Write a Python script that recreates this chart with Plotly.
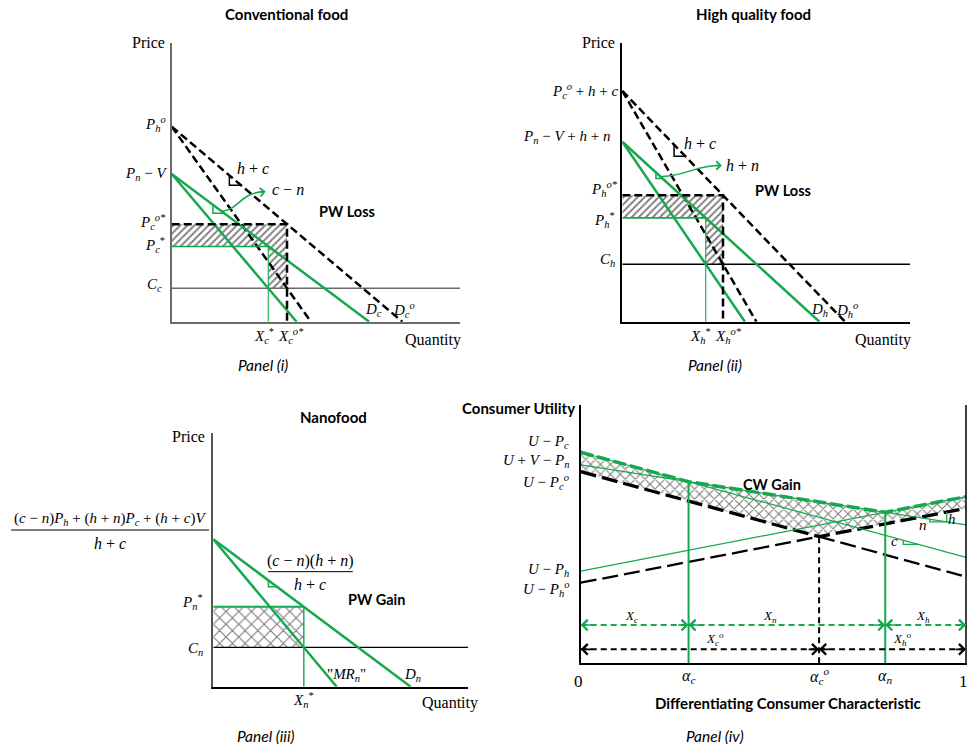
import plotly.graph_objects as go

# ---------------------------------------------------------------- data ----
# Panel (i) Conventional food  (price and quantity in model units, 0-10)
conv_price_int = [7.0, 5.3]      # [P_h^o  (old demand),  P_n - V (new demand)]
conv_demand_q  = [8.0, 6.85]     # quantity intercepts [D_c^o, D_c]
conv_mr_q      = [4.83, 4.33]    # quantity intercepts of old / new "MR"
conv_eq_price  = [3.5, 2.7]      # [P_c^o*, P_c^*]
conv_eq_qty    = [4.0, 3.35]     # [X_c^o*, X_c^*]
conv_cost      = 1.2             # C_c

# Panel (ii) High quality food
hq_price_int = [8.27, 6.45]      # [P_c^o + h + c,  P_n - V + h + n]
hq_demand_q  = [7.74, 6.85]      # [D_h^o, D_h]
hq_mr_q      = [4.66, 4.26]
hq_eq_price  = [4.53, 3.72]      # [P_h^o*, P_h^*]
hq_eq_qty    = [3.5, 2.9]        # [X_h^o*, X_h^*]
hq_cost      = 2.06              # C_h

# Panel (iii) Nanofood
nano_price_int = 5.82
nano_demand_q  = 7.74
nano_mr_q      = 4.84
nano_eq_price  = 3.16            # P_n^*
nano_eq_qty    = 3.55            # X_n^*
nano_cost      = 1.55            # C_n

# Panel (iv) consumer utility at alpha = 0 and alpha = 1
alpha_ends    = [0.0, 1.0]
util_conv_old = [7.42, 3.35]     # U - P_c^o
util_hq_old   = [3.12, 6.0]      # U - P_h^o
util_conv_new = [8.17, 4.1]      # U - P_c
util_nano     = [7.68, 5.36]     # U + V - P_n
util_hq_new   = [3.57, 6.45]     # U - P_h

# -------------------------------------------------------------- styles ----
W, H = 968, 745
GREEN = '#16a84e'
SERIF = 'Liberation Serif'
SANS = 'Lato'
DASH = '8px,4px'
XA = {1: 'x', 2: 'x2', 3: 'x3', 4: 'x4'}
YA = {1: 'y', 2: 'y2', 3: 'y3', 4: 'y4'}

fig = go.Figure()


def add_line(xs, ys, p, color='black', width=2.0, dash='solid'):
    fig.add_trace(go.Scatter(x=list(xs), y=list(ys), mode='lines',
                             line=dict(color=color, width=width, dash=dash),
                             xaxis=XA[p], yaxis=YA[p], hoverinfo='skip',
                             showlegend=False))


def add_area(xs, ys, p, shape, size, solidity):
    fig.add_trace(go.Scatter(x=list(xs), y=list(ys), mode='lines', fill='toself',
                             fillcolor='white',
                             line=dict(width=0, color='rgba(0,0,0,0)'),
                             fillpattern=dict(shape=shape, size=size, solidity=solidity,
                                              fgcolor='#000000', bgcolor='white'),
                             xaxis=XA[p], yaxis=YA[p], hoverinfo='skip',
                             showlegend=False))


def add_text(x, y, text, p=None, size=15, family=SERIF, xanchor='center',
             yanchor='middle', xshift=0, yshift=0):
    if p is None:
        xr, yr = 'paper', 'paper'
        x, y = x / W, (H - y) / H
    else:
        xr, yr = XA[p], YA[p]
    fig.add_annotation(x=x, y=y, xref=xr, yref=yr, text=text, showarrow=False,
                       font=dict(family=family, size=size, color='black'),
                       xanchor=xanchor, yanchor=yanchor, xshift=xshift, yshift=yshift)


def add_head(x, y, p, color, dx=-12, dy=0, size=1.3, width=1.6):
    fig.add_annotation(x=x, y=y, xref=XA[p], yref=YA[p], ax=dx, ay=dy, text='',
                       showarrow=True, arrowhead=4, arrowsize=size, arrowwidth=width,
                       arrowcolor=color, standoff=0)


def on_demand(pint, qint, q):
    return pint * (1 - q / qint)


def i(t):
    return '<i>' + t + '</i>'


MINUS = ' \u2212 '
TITLE = 15
PANEL = 15.5


def demand_panel(p, P_int, Q_int, MR_q, P_eq, X_eq, C, cost_color, tris):
    Po, Pn = P_eq
    Xo, Xn = X_eq
    add_area([0, Xo, Xo, Xn, Xn, 0], [Po, Po, C, C, Pn, Pn], p, '/', 5, 0.38)
    add_line([0, 10], [C, C], p, cost_color, 1.4)
    add_line([0, Q_int[0]], [P_int[0], 0], p, 'black', 2.5, DASH)
    add_line([0, MR_q[0]], [P_int[0], 0], p, 'black', 2.5, DASH)
    add_line([0, Q_int[1]], [P_int[1], 0], p, GREEN, 2.5)
    add_line([0, MR_q[1]], [P_int[1], 0], p, GREEN, 2.5)
    add_line([0, Xo, Xo], [Po, Po, 0], p, 'black', 2.5, DASH)
    add_line([0, Xn], [Pn, Pn], p, GREEN, 1.6)
    add_line([Xn, Xn], [Pn, 0], p, GREEN, 1.1)
    for k, q0, dp, col in tris:
        p0 = on_demand(P_int[k], Q_int[k], q0)
        dq = dp * Q_int[k] / P_int[k]
        add_line([q0, q0, q0 + dq], [p0, p0 - dp, p0 - dp], p, col, 1.5)


# ------------------------------------------------------------ panel (i) ----
demand_panel(1, conv_price_int, conv_demand_q, conv_mr_q, conv_eq_price,
             conv_eq_qty, conv_cost, '#6a6a6a',
             [(0, 2.0, 0.35, 'black'), (1, 1.43, 0.3, GREEN)])
fig.add_shape(type='path', xref='x', yref='y',
              path='M 1.75,3.97 C 2.35,4.02 2.35,4.62 3.22,4.67',
              line=dict(color=GREEN, width=1.5))
add_head(3.26, 4.67, 1, GREEN, dx=-8, dy=1, size=1.1, width=1.5)

add_text(0, conv_price_int[0], i('P') + '<sub>' + i('h') + '</sub><sup>' + i('o') + '</sup>', 1,
         xanchor='right', xshift=-4, yshift=3)
add_text(0, conv_price_int[1], i('P') + '<sub>' + i('n') + '</sub>' + MINUS + i('V'), 1,
         xanchor='right', xshift=-3)
add_text(0, conv_eq_price[0], i('P') + '<sub>' + i('c') + '</sub><sup>' + i('o*') + '</sup>', 1,
         xanchor='right', xshift=-4, yshift=2)
add_text(0, conv_eq_price[1], i('P') + '<sub>' + i('c') + '</sub><sup>*</sup>', 1,
         xanchor='right', xshift=-5, yshift=1)
add_text(0, conv_cost, i('C') + '<sub>' + i('c') + '</sub>', 1,
         xanchor='right', xshift=-8, yshift=3)
add_text(0, 10, 'Price', 1, size=16, xanchor='right', xshift=-5)
add_text(9.06, 0, 'Quantity', 1, size=16, yshift=-18)
add_text(conv_eq_qty[1], 0, i('X') + '<sub>' + i('c') + '</sub><sup>*</sup>', 1, yshift=-14, xshift=-4)
add_text(conv_eq_qty[0], 0, i('X') + '<sub>' + i('c') + '</sub><sup>' + i('o*') + '</sup>', 1,
         yshift=-14, xshift=4)
add_text(conv_demand_q[1], 0, i('D') + '<sub>' + i('c') + '</sub>', 1, yshift=12, xshift=4)
add_text(conv_demand_q[0], 0, i('D') + '<sub>' + i('c') + '</sub><sup>' + i('o') + '</sup>', 1,
         yshift=12, xshift=2)
add_text(2.82, 5.48, i('h') + ' + ' + i('c'), 1, size=16)
add_text(3.41, 4.76, i('c') + MINUS + i('n'), 1, size=16, xanchor='left')
add_text(6.07, 3.97, '<b>PW Loss</b>', 1, size=14.5, family=SANS)
add_text(286.7, 14, '<b>Conventional food</b>', None, size=TITLE, family=SANS)
add_text(263, 365, '<i>Panel (i)</i>', None, size=PANEL, family=SANS)

# ----------------------------------------------------------- panel (ii) ----
demand_panel(2, hq_price_int, hq_demand_q, hq_mr_q, hq_eq_price,
             hq_eq_qty, hq_cost, 'black',
             [(0, 1.8, 0.42, 'black'), (1, 1.17, 0.22, GREEN)])
fig.add_shape(type='path', xref='x2', yref='y2',
              path='M 1.38,5.2 C 2.3,5.25 2.5,5.6 3.42,5.6',
              line=dict(color=GREEN, width=1.5))
add_head(3.46, 5.6, 2, GREEN, dx=-8, dy=0, size=1.1, width=1.5)

add_text(0, hq_price_int[0], i('P') + '<sub>' + i('c') + '</sub><sup>' + i('o') + '</sup> + '
         + i('h') + ' + ' + i('c'), 2, xanchor='right', xshift=-1)
add_text(0, hq_price_int[1], i('P') + '<sub>' + i('n') + '</sub>' + MINUS + i('V') + ' + '
         + i('h') + ' + ' + i('n'), 2, xanchor='right', xshift=-9, yshift=5)
add_text(0, hq_eq_price[0], i('P') + '<sub>' + i('h') + '</sub><sup>' + i('o*') + '</sup>', 2,
         xanchor='right', xshift=-2, yshift=6)
add_text(0, hq_eq_price[1], i('P') + '<sub>' + i('h') + '</sub><sup>*</sup>', 2,
         xanchor='right', xshift=-5, yshift=-2)
add_text(0, hq_cost, i('C') + '<sub>' + i('h') + '</sub>', 2,
         xanchor='right', xshift=-5, yshift=4)
add_text(0, 10, 'Price', 2, size=16, xanchor='right', xshift=-5)
add_text(9.07, 0, 'Quantity', 2, size=16, yshift=-18)
add_text(hq_eq_qty[1], 0, i('X') + '<sub>' + i('h') + '</sub><sup>*</sup>', 2, yshift=-14, xshift=-5)
add_text(hq_eq_qty[0], 0, i('X') + '<sub>' + i('h') + '</sub><sup>' + i('o*') + '</sup>', 2,
         yshift=-14, xshift=5)
add_text(hq_demand_q[1], 0, i('D') + '<sub>' + i('h') + '</sub>', 2, yshift=12)
add_text(hq_demand_q[0], 0, i('D') + '<sub>' + i('h') + '</sub><sup>' + i('o') + '</sup>', 2,
         yshift=12, xshift=2)
add_text(2.07, 6.4, i('h') + ' + ' + i('c'), 2, size=16, xanchor='left')
add_text(3.53, 5.59, i('h') + ' + ' + i('n'), 2, size=16, xanchor='left')
add_text(5.6, 4.72, '<b>PW Loss</b>', 2, size=14.5, family=SANS)
add_text(753, 14, '<b>High quality food</b>', None, size=TITLE, family=SANS)
add_text(715, 365, '<i>Panel (ii)</i>', None, size=PANEL, family=SANS)

# ---------------------------------------------------------- panel (iii) ----
add_area([0, nano_eq_qty, nano_eq_qty, 0],
         [nano_eq_price, nano_eq_price, nano_cost, nano_cost], 3, 'x', 9, 0.24)
add_line([0, 10], [nano_cost, nano_cost], 3, 'black', 1.4)
add_line([0, nano_demand_q], [nano_price_int, 0], 3, GREEN, 2.5)
add_line([0, nano_mr_q], [nano_price_int, 0], 3, GREEN, 2.5)
add_line([0, nano_eq_qty], [nano_eq_price, nano_eq_price], 3, GREEN, 2)
add_line([nano_eq_qty, nano_eq_qty], [nano_eq_price, 0], 3, GREEN, 1.4)
q0 = 2.16
p0 = on_demand(nano_price_int, nano_demand_q, q0)
dq = 0.25 * nano_demand_q / nano_price_int
add_line([q0, q0, q0 + dq], [p0, p0 - 0.25, p0 - 0.25], 3, GREEN, 1.5)

add_text(110, 519.3, '(' + i('c') + MINUS + i('n') + ')' + i('P') + '<sub>' + i('h') + '</sub> + ('
         + i('h') + ' + ' + i('n') + ')' + i('P') + '<sub>' + i('c') + '</sub> + (' + i('h')
         + ' + ' + i('c') + ')' + i('V'), None, size=15)
fig.add_shape(type='line', xref='paper', yref='paper', x0=11 / W, x1=209 / W,
              y0=(H - 530) / H, y1=(H - 530) / H, line=dict(color='black', width=1))
add_text(110, 543, i('h') + ' + ' + i('c'), None, size=16)
add_text(3.79, 4.97, '(' + i('c') + MINUS + i('n') + ')(' + i('h') + ' + ' + i('n') + ')', 3, size=16)
fig.add_shape(type='line', xref='x3', yref='y3', x0=2.15, x1=5.47, y0=4.54, y1=4.54,
              line=dict(color='black', width=1))
add_text(3.79, 4.05, i('h') + ' + ' + i('c'), 3, size=16)
add_text(6.41, 3.45, '<b>PW Gain</b>', 3, size=14.5, family=SANS)
add_text(0, nano_eq_price, i('P') + '<sub>' + i('n') + '</sub><sup>*</sup>', 3,
         xanchor='right', xshift=-8, yshift=5)
add_text(0, nano_cost, i('C') + '<sub>' + i('n') + '</sub>', 3,
         xanchor='right', xshift=-8, yshift=-2)
add_text(0, 10, 'Price', 3, size=16, xanchor='right', xshift=-6, yshift=-3)
add_text(9.28, 0, 'Quantity', 3, size=16, yshift=-16)
add_text(nano_eq_qty, 0, i('X') + '<sub>' + i('n') + '</sub><sup>*</sup>', 3, yshift=-13)
add_text(5.23, 0.46, '"' + i('MR') + '<sub>' + i('n') + '</sub>"', 3)
add_text(7.83, 0.46, i('D') + '<sub>' + i('n') + '</sub>', 3)
add_text(333, 416.7, '<b>Nanofood</b>', None, size=TITLE, family=SANS)
add_text(265.7, 736, '<i>Panel (iii)</i>', None, size=PANEL, family=SANS)

# ----------------------------------------------------------- panel (iv) ----
def at(line, a):
    return line[0] + (line[1] - line[0]) * a


def cross(l1, l2):
    return (l2[0] - l1[0]) / ((l1[1] - l1[0]) - (l2[1] - l2[0]))


a_c = cross(util_conv_new, util_nano)
a_n = cross(util_nano, util_hq_new)
a_o = cross(util_conv_old, util_hq_old)

new_env_a = [alpha_ends[0], a_c, a_n, alpha_ends[1]]
new_env_u = [util_conv_new[0], at(util_conv_new, a_c), at(util_nano, a_n), util_hq_new[1]]
old_env_a = [alpha_ends[0], a_o, alpha_ends[1]]
old_env_u = [util_conv_old[0], at(util_conv_old, a_o), util_hq_old[1]]

add_area(new_env_a + old_env_a[::-1], new_env_u + old_env_u[::-1], 4, 'x', 7, 0.28)

LONG = '16px,6px'
add_line([a_o, 1], [at(util_conv_old, a_o), util_conv_old[1]], 4, 'black', 2.3, LONG)
add_line([0, a_o], [util_hq_old[0], at(util_hq_old, a_o)], 4, 'black', 2.3, LONG)
add_line(old_env_a, old_env_u, 4, 'black', 3.3, LONG)
for ln in (util_conv_new, util_nano, util_hq_new):
    add_line(alpha_ends, ln, 4, GREEN, 1.2)
add_line(new_env_a, new_env_u, 4, GREEN, 3.5, '13px,4px')
add_line([a_c, a_c], [0, at(util_conv_new, a_c)], 4, GREEN, 2)
add_line([a_n, a_n], [0, at(util_nano, a_n)], 4, GREEN, 2)
add_line([a_o, a_o], [0, at(util_conv_old, a_o)], 4, 'black', 2, '6px,4px')
add_line([1, 1], [0, 10], 4, 'black', 1.5)

# market share arrows
Y_NEW, Y_OLD = 1.48, 0.54
for seg in ([0, a_c], [a_c, a_n], [a_n, 1]):
    add_line(seg, [Y_NEW, Y_NEW], 4, GREEN, 2, '6px,4px')
    add_head(seg[1], Y_NEW, 4, GREEN, dx=-12)
    add_head(seg[0], Y_NEW, 4, GREEN, dx=12)
for seg in ([0, a_o], [a_o, 1]):
    add_line(seg, [Y_OLD, Y_OLD], 4, 'black', 2, '6px,4px')
    add_head(seg[1], Y_OLD, 4, 'black', dx=-12)
    add_head(seg[0], Y_OLD, 4, 'black', dx=12)

# slope markers
for ln, a1, a2 in ((util_conv_new, 0.837, 0.876),):
    add_line([a1, a1, a2], [at(ln, a1), at(ln, a2), at(ln, a2)], 4, GREEN, 1.3)
add_line([0.906, 0.906, 0.95, 0.95],
         [at(util_nano, 0.906), at(util_nano, 0.95), at(util_nano, 0.95), at(util_hq_old, 0.95)],
         4, GREEN, 1.3)
add_text(0.815, 4.75, i('c'), 4, size=15)
add_text(0.888, 5.36, i('n'), 4, size=15)
add_text(0.963, 5.6, i('h'), 4, size=15)

add_text(0.132, 1.81, i('X') + '<sub>' + i('c') + '</sub>', 4, size=13)
add_text(0.491, 1.81, i('X') + '<sub>' + i('n') + '</sub>', 4, size=13)
add_text(0.889, 1.81, i('X') + '<sub>' + i('h') + '</sub>', 4, size=13)
add_text(0.349, 0.93, i('X') + '<sub>' + i('c') + '</sub><sup>' + i('o') + '</sup>', 4, size=13)
add_text(0.836, 0.93, i('X') + '<sub>' + i('h') + '</sub><sup>' + i('o') + '</sup>', 4, size=13)

add_text(0, util_conv_new[0], i('U') + MINUS + i('P') + '<sub>' + i('c') + '</sub>', 4,
         xanchor='right', xshift=-10, yshift=10)
add_text(0, util_nano[0], i('U') + ' + ' + i('V') + MINUS + i('P') + '<sub>' + i('n') + '</sub>', 4,
         xanchor='right', xshift=-10, yshift=4)
add_text(0, util_conv_old[0], i('U') + MINUS + i('P') + '<sub>' + i('c') + '</sub><sup>'
         + i('o') + '</sup>', 4, xanchor='right', xshift=-10, yshift=-10)
add_text(0, util_hq_new[0], i('U') + MINUS + i('P') + '<sub>' + i('h') + '</sub>', 4,
         xanchor='right', xshift=-10, yshift=1)
add_text(0, util_hq_old[0], i('U') + MINUS + i('P') + '<sub>' + i('h') + '</sub><sup>'
         + i('o') + '</sup>', 4, xanchor='right', xshift=-10, yshift=-6)

add_text(0, 0, '0', 4, size=17, yshift=-18, xshift=-2)
add_text(1, 0, '1', 4, size=17, yshift=-18, xshift=-3)
add_text(a_c, 0, i('\u03b1') + '<sub>' + i('c') + '</sub>', 4, size=16, yshift=-13)
add_text(a_o, 0, i('\u03b1') + '<sub>' + i('c') + '</sub><sup>' + i('o') + '</sup>', 4,
         size=16, yshift=-13)
add_text(a_n, 0, i('\u03b1') + '<sub>' + i('n') + '</sub>', 4, size=16, yshift=-13)
add_text(0.496, 6.93, '<b>CW Gain</b>', 4, size=14.5, family=SANS)
add_text(518, 408.3, '<b>Consumer Utility</b>', None, size=TITLE, family=SANS)
add_text(788, 703.3, '<b>Differentiating Consumer Characteristic</b>', None, size=TITLE, family=SANS)
add_text(715, 736, '<i>Panel (iv)</i>', None, size=PANEL, family=SANS)


# ---------------------------------------------------------------- axes -----
def px_dom_x(a, b):
    return [a / W, b / W]


def px_dom_y(bottom, top):
    return [(H - bottom) / H, (H - top) / H]


def ax(domain, rng, anchor, color='black', width=1.5):
    return dict(domain=domain, range=rng, anchor=anchor, showline=True, linecolor=color,
                linewidth=width, showgrid=False, zeroline=False, showticklabels=False,
                ticks='', fixedrange=True)


fig.update_layout(
    width=W, height=H, margin=dict(l=0, r=0, t=0, b=0),
    paper_bgcolor='white', plot_bgcolor='white', showlegend=False,
    xaxis=ax(px_dom_x(171.7, 460), [0, 10], 'y', '#6a6a6a', 2),
    yaxis=ax(px_dom_y(321.7, 43), [0, 10], 'x', '#6a6a6a', 2),
    xaxis2=ax(px_dom_x(622.3, 910), [0, 10], 'y2', 'black', 1.6),
    yaxis2=ax(px_dom_y(321.7, 42.7), [0, 10], 'x2', 'black', 1.6),
    xaxis3=ax(px_dom_x(213.3, 468.3), [0, 10], 'y3', 'black', 1.6),
    yaxis3=ax(px_dom_y(686.7, 433.3), [0, 10], 'x3', '#555555', 1.6),
    xaxis4=ax(px_dom_x(580.7, 967), [0, (967 - 580.7) / 385.3], 'y4', 'black', 1.5),
    yaxis4=ax(px_dom_y(663.3, 405), [0, 10], 'x4', 'black', 1.5),
)

fig.write_html('out.html', config={'displayModeBar': False},
               post_script="document.body.style.margin='0px';"
                           "document.body.style.overflow='hidden';")
